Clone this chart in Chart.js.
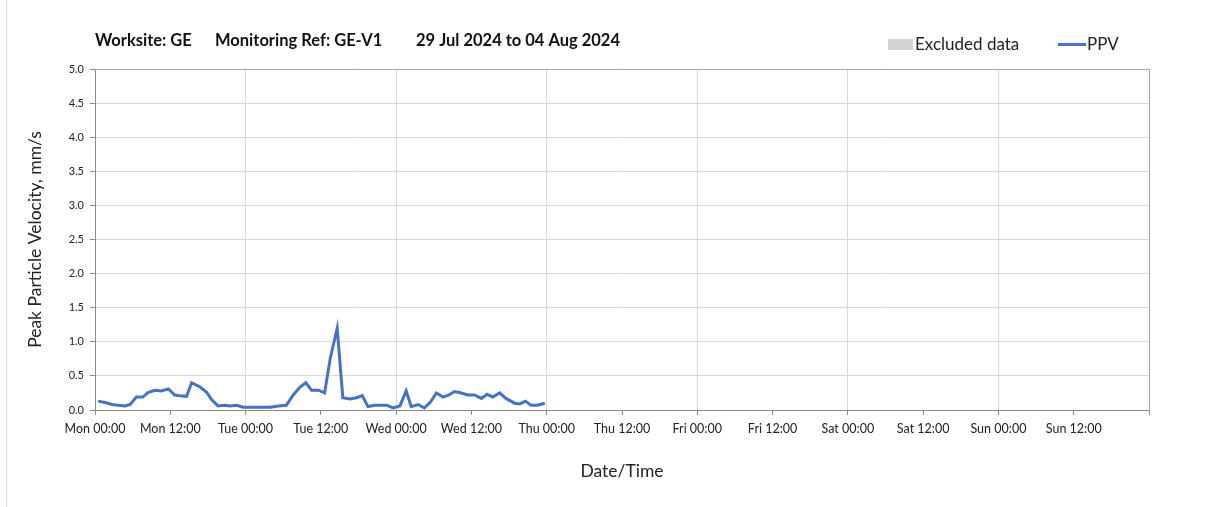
<!DOCTYPE html>
<html>
<head>
<meta charset="utf-8">
<script src="https://cdn.jsdelivr.net/npm/chart.js@4.4.1/dist/chart.umd.min.js"></script>
<style>
html,body{margin:0;padding:0;background:#fff;}
#wrap{width:1208px;height:507px;position:relative;}
</style>
</head>
<body>
<div id="wrap"><canvas id="chart" width="1208" height="507"></canvas></div>
<script>
// hours since Mon 29 Jul 00:00
const hours = [0.5,1.6,2.7,3.7,4.8,5.6,6.6,7.6,8.5,9.6,10.6,11.7,12.7,13.5,14.6,15.4,16.7,17.8,
18.6,19.6,20.7,21.5,22.6,23.6,24.7,25.7,26.8,27.9,29.2,30.5,31.6,32.6,33.6,34.5,35.6,36.6,
37.5,38.6,39.5,40.6,41.7,42.6,43.5,44.6,45.7,46.5,47.5,48.6,49.6,50.4,51.5,52.5,53.5,54.4,
55.5,56.4,57.3,58.4,59.4,60.5,61.6,62.5,63.4,64.5,65.5,66.9,67.7,68.6,69.5,70.5,71.7];

const ppv = [0.13,0.11,0.08,0.07,0.06,0.08,0.19,0.19,0.26,0.29,0.28,0.31,0.22,0.21,0.20,0.40,0.34,0.26,
0.15,0.06,0.07,0.06,0.07,0.04,0.04,0.04,0.04,0.04,0.06,0.07,0.22,0.33,0.40,0.29,0.29,0.25,
0.76,1.20,0.18,0.16,0.18,0.21,0.05,0.07,0.07,0.07,0.03,0.06,0.28,0.05,0.08,0.03,0.12,0.25,
0.19,0.22,0.27,0.25,0.22,0.22,0.17,0.23,0.19,0.25,0.17,0.10,0.09,0.13,0.07,0.07,0.10];

const dayNames = ["Mon","Tue","Wed","Thu","Fri","Sat","Sun","Mon"];
const yTicks = [0,0.5,1,1.5,2,2.5,3,3.5,4,4.5,5];

const FONT = "Lato, 'Open Sans', sans-serif";

const decor = {
  id:"decor",
  beforeDraw(c){
    const ctx = c.ctx;
    ctx.save();
    ctx.fillStyle = "#fff";
    ctx.fillRect(0,0,c.width,c.height);
    ctx.strokeStyle = "#dedede";
    ctx.lineWidth = 1;
    ctx.beginPath();
    ctx.moveTo(6.5,0);
    ctx.lineTo(6.5,507);
    ctx.stroke();
    ctx.restore();
  },
  afterDraw(c){
    const ctx = c.ctx;
    ctx.save();
    ctx.fillStyle = "#111";
    ctx.textBaseline = "middle";
    ctx.font = "bold 16.5px " + FONT;
    ctx.fillText("Worksite: GE", 95, 41);
    ctx.fillText("Monitoring Ref: GE-V1", 215, 41);
    ctx.fillText("29 Jul 2024 to 04 Aug 2024", 416, 41);

    ctx.font = "17px " + FONT;
    ctx.fillStyle = "#d3d3d3";
    ctx.fillRect(888,39,25,11);
    ctx.fillStyle = "#222";
    ctx.fillText("Excluded data", 915, 45);
    ctx.strokeStyle = "#4472C4";
    ctx.lineWidth = 3;
    ctx.beginPath();
    ctx.moveTo(1058,44.5);
    ctx.lineTo(1086,44.5);
    ctx.stroke();
    ctx.fillText("PPV", 1087, 45);
    ctx.restore();
  }
};

let chart = null;

function initChart(){

const ctx = document.getElementById("chart");

chart = new Chart(ctx,{

type:"line",

data:{
datasets:[{
label:"PPV",
data:hours.map((h,i)=>({x:h,y:ppv[i]})),
borderColor:"#4472C4",
borderWidth:3,
pointRadius:0,
tension:0,
fill:false
}]
},

options:{
responsive:false,
animation:false,
layout:{padding:{left:0,right:59,top:69,bottom:0}},

plugins:{
legend:{display:false},
tooltip:{enabled:false}
},

scales:{

x:{
type:"linear",
min:0,
max:168,
afterBuildTicks:s=>{ s.ticks = []; for(let v=0; v<168; v+=12) s.ticks.push({value:v}); s.ticks.push({value:168}); },
afterFit:s=>{ s.height = 97; },
ticks:{
color:"#222",
font:{family:FONT,size:12.5},
padding:6,
maxRotation:0,
autoSkip:false,
callback:v=> v>=168 ? "" : dayNames[Math.floor(v/24)] + (v%24===0 ? " 00:00" : " 12:00")
},
grid:{
color:c=> c.tick.value===168 ? "#a6a6a6" : (c.tick.value%24===0 ? "#d9d9d9" : "rgba(0,0,0,0)"),
tickColor:"#8c8c8c",
tickLength:5,
drawTicks:true
},
border:{color:"#8c8c8c",width:1},
title:{
display:true,
text:"Date/Time",
color:"#222",
font:{family:FONT,size:17.5},
padding:{top:0,bottom:25}
}
},

y:{
min:0,
max:5,
afterBuildTicks:s=>{ s.ticks = yTicks.map(v=>({value:v})); },
afterFit:s=>{ s.width = 95; },
ticks:{
color:"#222",
font:{family:FONT,size:11},
padding:6,
callback:v=>v.toFixed(1)
},
grid:{
color:c=> c.tick.value===5 ? "#a6a6a6" : "#d9d9d9",
tickColor:"#8c8c8c",
tickLength:5
},
border:{color:"#8c8c8c",width:1},
title:{
display:true,
text:"Peak Particle Velocity, mm/s",
color:"#222",
font:{family:FONT,size:17.5},
padding:{top:25,bottom:0}
}
}

}
},

plugins:[decor]

});

}

initChart();
</script>
</body>
</html>
